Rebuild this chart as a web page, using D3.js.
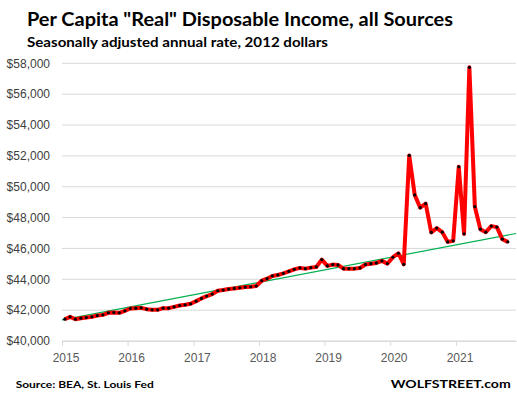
<!DOCTYPE html>
<html>
<head>
<meta charset="utf-8">
<script src="https://cdn.jsdelivr.net/npm/d3@7"></script>
<style>
  body { margin: 0; background: #fff; }
  svg { display: block; }
</style>
</head>
<body>
<div id="chart"></div>
<script>
// monthly values, Jan 2015 .. Oct 2021
const firstMonth = "2015-01-01";
const income = [
    41412, 41564, 41412, 41477, 41520, 41564, 41650, 41694, 41824, 41846, 41824, 41954,
    42106, 42128, 42150, 42063, 42020, 42020, 42128, 42128, 42215, 42302, 42345, 42410,
    42584, 42760, 42910, 43042, 43257, 43303, 43368, 43407, 43453, 43498, 43518, 43564,
    43909, 44039, 44215, 44280, 44384, 44515, 44645, 44736, 44691, 44756, 44801, 45277,
    44867, 44951, 44932, 44691, 44691, 44691, 44735, 44960, 45010, 45060, 45193, 45017,
    45430, 45688, 44971, 52026, 49470, 48640, 48900, 47036, 47317, 47056, 46424, 46490,
    51290, 46945, 57740, 48705, 47251, 47056, 47447, 47382, 46600, 46424
];

// linear trend line end points
const trendDates = ["2015-01-01", "2021-12-01"];
const trendValues = [41370, 46970];

const yTicks = [40000, 42000, 44000, 46000, 48000, 50000, 52000, 54000, 56000, 58000];
const yearLabels = ["2015", "2016", "2017", "2018", "2019", "2020", "2021"];

const svgWidth = 517;
const svgHeight = 399;

const plot = { left: 62, right: 516, top: 63.3, bottom: 341 };

const parse = d3.timeParse("%Y-%m-%d");

const svg = d3.select("#chart").append("svg")
    .attr("width", svgWidth)
    .attr("height", svgHeight);

// x: each month gets a slot, points sit in the middle of it
const start = parse(firstMonth);
const months = income.map((v, i) => d3.timeMonth.offset(start, i));
const x = d3.scaleTime()
    .domain([start, parse("2021-12-01")])
    .range([plot.left, plot.right]);
const mid = d => new Date((+d + +d3.timeMonth.offset(d, 1)) / 2);

const y = d3.scaleLinear()
    .domain([40000, 58000])
    .range([plot.bottom, plot.top]);

// gridlines
svg.append("g")
    .selectAll("line")
    .data(yTicks)
    .enter()
    .append("line")
    .attr("x1", plot.left)
    .attr("x2", plot.right)
    .attr("y1", d => y(d))
    .attr("y2", d => y(d))
    .attr("stroke", "#d9d9d9")
    .attr("stroke-width", 1);

// y labels
const yAxis = d3.axisLeft(y)
    .tickValues(yTicks)
    .tickSize(0)
    .tickPadding(0)
    .tickFormat(d => "$" + d3.format(",")(d));

svg.append("g")
    .attr("transform", "translate(50,0)")
    .call(yAxis)
    .call(g => g.select(".domain").remove())
    .selectAll("text")
    .attr("font-family", "Liberation Sans, Arial, sans-serif")
    .attr("font-size", 12)
    .attr("fill", "#404040");

// x axis with year ticks
const yearDates = yearLabels.map(t => parse(t + "-01-01"));
const xAxis = d3.axisBottom(x)
    .tickValues(yearDates)
    .tickSize(5)
    .tickSizeOuter(0)
    .tickPadding(7)
    .tickFormat(d3.timeFormat("%Y"));

const xg = svg.append("g")
    .attr("transform", `translate(0, ${plot.bottom})`)
    .call(xAxis);

xg.select(".domain").attr("stroke", "#d9d9d9");
xg.selectAll(".tick line").attr("stroke", "#d9d9d9");
xg.selectAll("text")
    .attr("dx", 3.5)
    .attr("font-family", "Liberation Sans, Arial, sans-serif")
    .attr("font-size", 12)
    .attr("fill", "#595959");

// trend line
svg.append("line")
    .attr("x1", x(parse(trendDates[0])))
    .attr("x2", x(parse(trendDates[1])))
    .attr("y1", y(trendValues[0]))
    .attr("y2", y(trendValues[1]))
    .attr("stroke", "#00b050")
    .attr("stroke-width", 1.2);

// income line
const line = d3.line()
    .x((d, i) => x(mid(months[i])))
    .y(d => y(d));

svg.append("path")
    .datum(income)
    .attr("d", line)
    .attr("fill", "none")
    .attr("stroke", "#ff0000")
    .attr("stroke-width", 4)
    .attr("stroke-linejoin", "round");

svg.append("g")
    .selectAll("circle")
    .data(income)
    .enter()
    .append("circle")
    .attr("cx", (d, i) => x(mid(months[i])))
    .attr("cy", d => y(d))
    .attr("r", 1.6)
    .attr("fill", "#000");

// titles and credits
const texts = [
    { t: 'Per Capita "Real" Disposable Income, all Sources', x: 27, y: 26, size: 18.5, w: 426 },
    { t: "Seasonally adjusted annual rate, 2012 dollars", x: 27, y: 46.7, size: 13, w: 301 },
    { t: "Source: BEA, St. Louis Fed", x: 15.7, y: 387.7, size: 10, w: 138 },
    { t: "WOLFSTREET.com", x: 390.7, y: 388.3, size: 11.8, w: 120 }
];

svg.append("g")
    .selectAll("text")
    .data(texts)
    .enter()
    .append("text")
    .attr("x", d => d.x)
    .attr("y", d => d.y)
    .attr("font-family", "Lato, sans-serif")
    .attr("font-weight", "bold")
    .attr("font-size", d => d.size)
    .attr("textLength", d => d.w)
    .attr("lengthAdjust", "spacingAndGlyphs")
    .attr("fill", "#000")
    .text(d => d.t);
</script>
</body>
</html>
